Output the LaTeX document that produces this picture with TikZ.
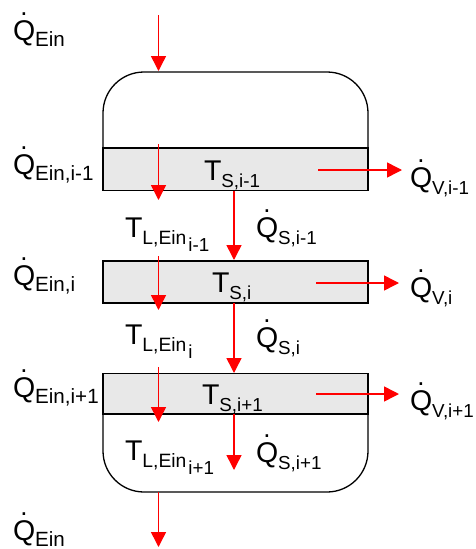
\documentclass[tikz,border=0pt]{standalone}
\usepackage{fontspec}
\setmainfont{Liberation Sans}
\usetikzlibrary{arrows.meta}
\newcommand{\QDot}{\rlap{\hspace{0.26em}\raisebox{0.85em}{\fontsize{26}{26}\selectfont .}}Q}
\newcommand{\SbE}[1]{\raisebox{-6.5pt}{\fontsize{20.6}{20.6}\selectfont #1}}
\newcommand{\Sb}[1]{\raisebox{-7.5pt}{\fontsize{18.8}{18.8}\selectfont #1}}
\newcommand{\Qe}[1]{\QDot\SbE{#1}}
\newcommand{\Qd}[1]{\QDot\Sb{#1}}
\newcommand{\Tl}[2]{T\raisebox{-7.5pt}{\fontsize{19.3}{19.3}\selectfont #1\raisebox{-6.5pt}{\kern2pt\fontsize{18.8}{18.8}\selectfont #2}}}
\tikzset{
 x=1pt,y=-1pt,
 lab/.style={anchor=base west,inner sep=0pt,outer sep=0pt,font=\fontsize{28.5}{28.5}\selectfont},
 flow/.style={red,line width=1.5pt,-{Triangle[length=15pt,width=15pt]},shorten >=0pt},
 wall/.style={black,line width=1.3pt},
 band/.style={draw=black,line width=1.3pt,fill=black!9}
}
\begin{document}
\begin{tikzpicture}
\useasboundingbox (0,0) rectangle (476,549);
% vessel
\draw[wall] (103,148) -- (103,113) arc[start angle=180,end angle=270,radius=41] -- (327,72) arc[start angle=270,end angle=360,radius=41] -- (368,148);
\draw[wall] (103,414) -- (103,451) arc[start angle=180,end angle=90,radius=41] -- (327,492) arc[start angle=90,end angle=0,radius=41] -- (368,414);
\draw[band] (103,148) rectangle (368,190.5);
\draw[band] (103,261) rectangle (368,303);
\draw[band] (103,373.5) rectangle (368,414);
% coordinates
\foreach \n/\x/\y in {a0/158.5/15,a1/158.5/71,b0/158.5/144,b1/158.5/200,c0/158.5/256,c1/158.5/310,d0/158.5/367,d1/158.5/422,e0/158.5/492,e1/158.5/547,
 s0/234/190.5,s1/234/260,t0/234/303,t1/234/373,u0/234/414,u1/234/470,
 v0/318/170,v1/402/170,w0/316/283,w1/399/283,y0/316/394,y1/399/394}
  {\coordinate (\n) at (\x,\y);}
\foreach \p/\q in {a0/a1,b0/b1,c0/c1,d0/d1,e0/e1,s0/s1,t0/t1,u0/u1,v0/v1,w0/w1,y0/y1}
  {\draw[flow] (\p) -- (\q);}
% labels
\node[lab] (q1) at (13,40) {\Qe{Ein}};
\node[lab] (q2) at (13,174) {\Qe{Ein,i-1}};
\node[lab] (q3) at (13,285) {\Qe{Ein,i}};
\node[lab] (q4) at (13,397) {\Qe{Ein,i+1}};
\node[lab] (q5) at (13,540) {\Qe{Ein}};
\node[lab] (v1l) at (410,187) {\Qd{V,i-1}};
\node[lab] (v2l) at (410,297) {\Qd{V,i}};
\node[lab] (v3l) at (410,410) {\Qd{V,i+1}};
\node[lab] (s1l) at (256,237) {\Qd{S,i-1}};
\node[lab] (s2l) at (256,347) {\Qd{S,i}};
\node[lab] (s3l) at (256,462) {\Qd{S,i+1}};
\node[lab] (t1l) at (125,237) {\Tl{L,Ein}{i-1}};
\node[lab] (t2l) at (125,344) {\Tl{L,Ein}{i}};
\node[lab] (t3l) at (125,460) {\Tl{L,Ein}{i+1}};
\node[lab] (ts1) at (204,180) {T\Sb{S,i-1}};
\node[lab] (ts2) at (212,292) {T\Sb{S,i}};
\node[lab] (ts3) at (202,404) {T\Sb{S,i+1}};
\end{tikzpicture}
\end{document}
